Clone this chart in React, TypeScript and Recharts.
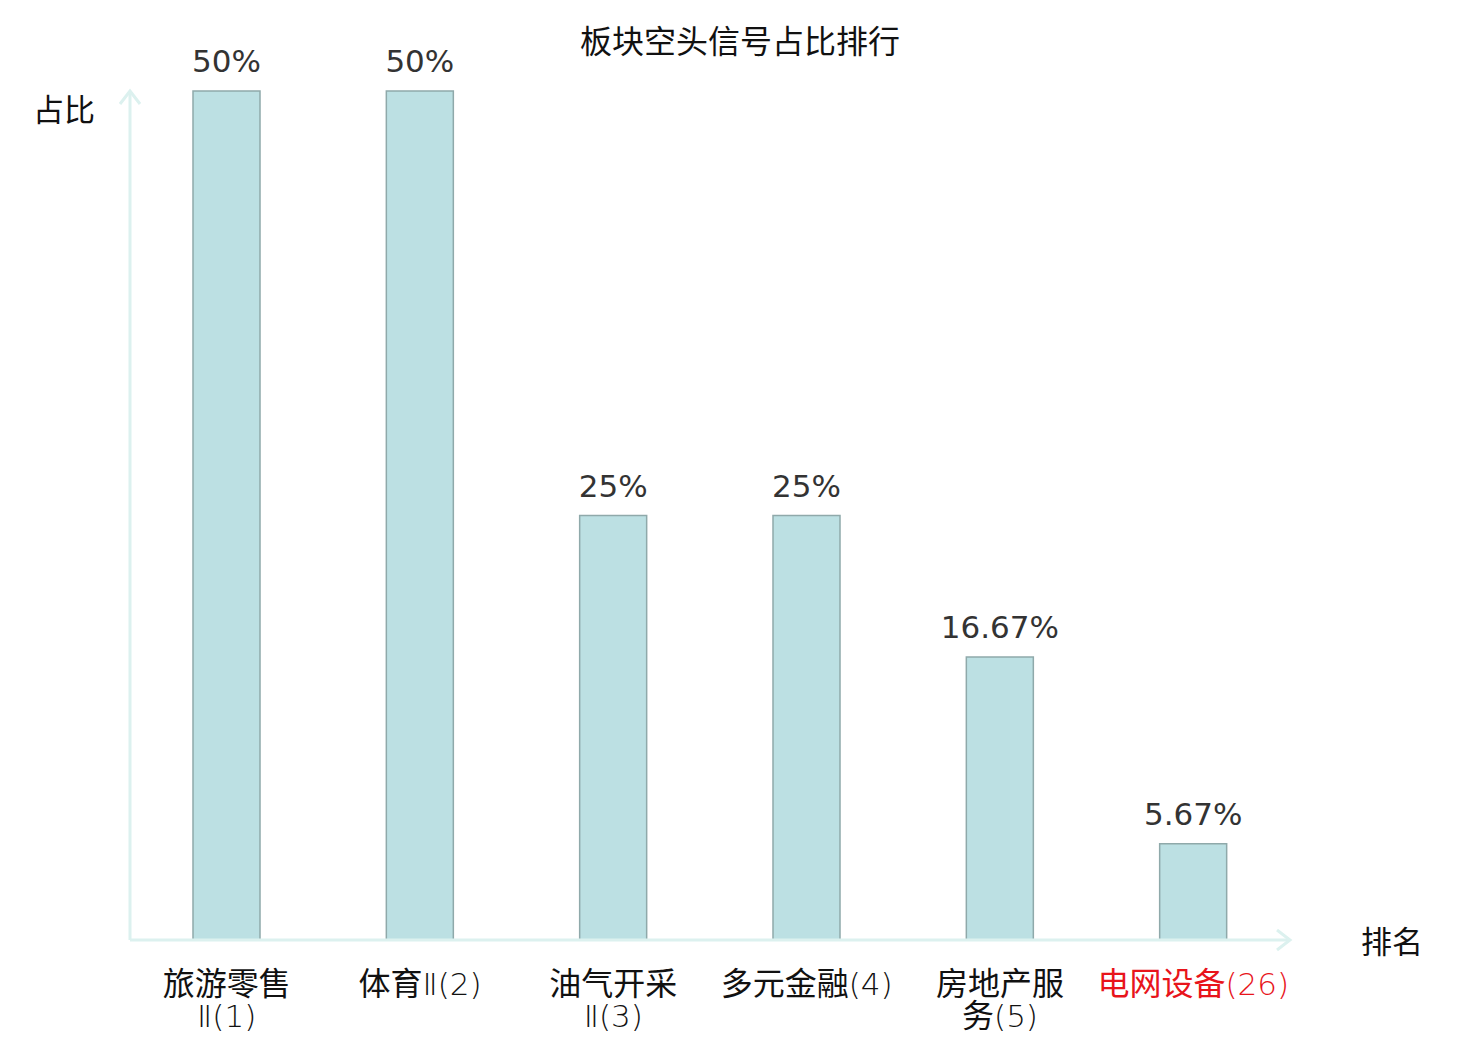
import React from 'react';
import { BarChart, Bar, XAxis, YAxis, LabelList } from 'recharts';

const categories = ['旅游零售\nⅡ(1)', '体育Ⅱ(2)', '油气开采\nⅡ(3)', '多元金融(4)', '房地产服\n务(5)', '电网设备(26)'];
const ratios = [50, 50, 25, 25, 16.67, 5.67];
const tickColors = ['#111111', '#111111', '#111111', '#111111', '#111111', '#e8141b'];
const titleText = '板块空头信号占比排行';
const yAxisName = '占比';
const xAxisName = '排名';

const data = categories.map((c, i) => ({ name: c, value: ratios[i] }));

const AXIS_COLOR = '#dcf1ef';
const CJK = '"Noto Sans CJK SC", "Noto Sans", sans-serif';
const LATIN = '"DejaVu Sans", "Noto Sans CJK SC", sans-serif';

const splitRuns = (s: string) => {
  const runs: { t: string; cjk: boolean }[] = [];
  for (const ch of s) {
    const cjk = /[\u4e00-\u9fff]/.test(ch);
    const last = runs[runs.length - 1];
    if (last && last.cjk === cjk) last.t += ch;
    else runs.push({ t: ch, cjk });
  }
  return runs;
};

const CategoryTick = (props: any) => {
  const { x, y, payload, index } = props;
  const lines = String(payload.value).split('\n');
  const color = tickColors[index] ?? '#111';
  return (
    <g>
      {lines.map((ln, i) => (
        <text
          key={i}
          x={x}
          y={y + 55 + i * 32}
          textAnchor="middle"
          fontSize={32}
          fontFamily={CJK}
          fill={color}
        >
          {splitRuns(ln).map((r, j) =>
            r.cjk ? (
              <tspan key={j}>{r.t}</tspan>
            ) : (
              <tspan key={j} fontFamily={LATIN} fontWeight={200} fontSize={31}>
                {r.t}
              </tspan>
            )
          )}
        </text>
      ))}
    </g>
  );
};

export default function App() {
  return (
    <div style={{ position: 'relative', width: 1464, height: 1032 }}>
      <BarChart
        width={1464}
        height={1032}
        data={data}
        margin={{ top: 83, right: 182, left: 121, bottom: 0 }}
      >
        <XAxis
          dataKey="name"
          height={100}
          tickSize={0}
          tickMargin={0}
          tickLine={false}
          interval={0}
          tick={<CategoryTick />}
          axisLine={{ stroke: AXIS_COLOR, strokeWidth: 3, markerEnd: 'url(#axisArrow)' } as any}
        />
        <YAxis
          width={1}
          domain={[0, 50]}
          tick={false}
          tickLine={false}
          axisLine={{ stroke: AXIS_COLOR, strokeWidth: 3, markerStart: 'url(#axisArrow)' } as any}
        />
        <Bar
          dataKey="value"
          barSize={67}
          fill="#bce0e3"
          stroke="#8fa9aa"
          strokeWidth={1.5}
          isAnimationActive={false}
        >
          <LabelList
            dataKey="value"
            position="top"
            offset={19}
            formatter={(v: any) => `${v}%`}
            fill="#333333"
            fontSize={31}
            fontFamily={LATIN}
          />
        </Bar>
      </BarChart>
      <svg
        width={1464}
        height={1032}
        style={{ position: 'absolute', left: 0, top: 0, pointerEvents: 'none' }}
      >
        <defs>
          <marker
            id="axisArrow"
            markerUnits="userSpaceOnUse"
            markerWidth={30}
            markerHeight={30}
            viewBox="0 0 30 30"
            refX={20}
            refY={15}
            orient="auto-start-reverse"
          >
            <path d="M7,5 L20,15 L7,25" fill="none" stroke={AXIS_COLOR} strokeWidth={3} />
          </marker>
        </defs>
        <text x={732} y={31} textAnchor="middle" dominantBaseline="central" fontSize={32} fontFamily={CJK} fill="#111">
          {titleText}
        </text>
        <text x={56} y={99} textAnchor="middle" dominantBaseline="central" fontSize={31} fontFamily={CJK} fill="#111">
          {yAxisName}
        </text>
        <text x={1384} y={931} textAnchor="middle" dominantBaseline="central" fontSize={31} fontFamily={CJK} fill="#111">
          {xAxisName}
        </text>
      </svg>
    </div>
  );
}
